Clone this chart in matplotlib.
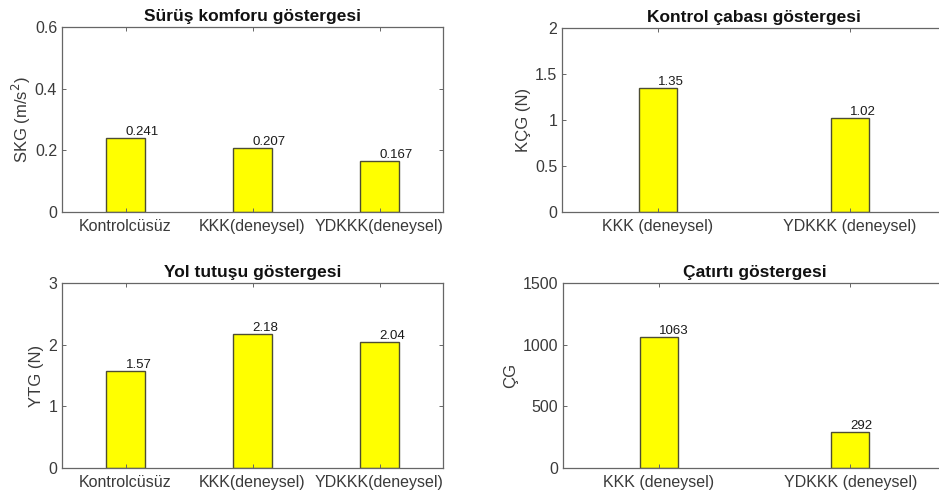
import matplotlib.pyplot as plt
from matplotlib.ticker import FuncFormatter

plt.rcParams['font.family'] = ['Liberation Sans', 'DejaVu Sans']

# data
cats3 = ["Kontrolcüsüz", "KKK(deneysel)", "YDKKK(deneysel)"]
cats2 = ["KKK (deneysel)", "YDKKK (deneysel)"]
skg = [0.241, 0.207, 0.167]
kcg = [1.35, 1.02]
ytg = [1.57, 2.18, 2.04]
cg = [1063, 292]
skg_lbl = ["0.241", "0.207", "0.167"]
kcg_lbl = ["1.35", "1.02"]
ytg_lbl = ["1.57", "2.18", "2.04"]
cg_lbl = ["1063", "292"]

W, H = 939, 500
fig = plt.figure(figsize=(W / 100, H / 100), dpi=100)
txt = '#3a3a3a'


def make_ax(l, t, r, b):
    return fig.add_axes([l / W, 1 - b / H, (r - l) / W, (b - t) / H])


def panel(ax, cats, vals, lbls, width, ylim, yticks, title, ylabel, lpad=3):
    x = list(range(1, len(cats) + 1))
    ax.bar(x, vals, width=width, color='#ffff00', edgecolor='#4d4d33', linewidth=1.0)
    for xi, v, s in zip(x, vals, lbls):
        ax.text(xi, v, s, ha='left', va='bottom', fontsize=9.5, color='#1a1a1a')
    ax.set_xlim(0.5, len(cats) + 0.5)
    ax.set_ylim(*ylim)
    ax.set_xticks(x)
    ax.set_xticklabels(cats, fontsize=11.5, color=txt)
    ax.set_yticks(yticks)
    ax.yaxis.set_major_formatter(FuncFormatter(lambda v, p: '%g' % v))
    ax.tick_params(axis='both', direction='in', top=True, right=True,
                   length=3, width=0.7, colors='#666666', labelcolor=txt,
                   labelsize=11.5)
    ax.tick_params(axis='x', pad=5)
    for s in ax.spines.values():
        s.set_color('#666666')
        s.set_linewidth(0.9)
    ax.set_title(title, fontsize=12.5, fontweight='bold', color='#111111', pad=4)
    ax.set_ylabel(ylabel, fontsize=12, color=txt, labelpad=lpad)


ax1 = make_ax(62, 27, 443, 212)
panel(ax1, cats3, skg, skg_lbl, 0.3, (0, 0.6), [0, 0.2, 0.4, 0.6],
      "Sürüş komforu göstergesi", "SKG (m/s$^2$)", lpad=1)

ax2 = make_ax(562, 28, 946, 212)
panel(ax2, cats2, kcg, kcg_lbl, 0.2, (0, 2), [0, 0.5, 1, 1.5, 2],
      "Kontrol çabası göstergesi", "KÇG (N)")

ax3 = make_ax(62, 283, 443, 468)
panel(ax3, cats3, ytg, ytg_lbl, 0.3, (0, 3), [0, 1, 2, 3],
      "Yol tutuşu göstergesi", "YTG (N)")

ax4 = make_ax(563, 283, 946, 468)
panel(ax4, cats2, cg, cg_lbl, 0.2, (0, 1500), [0, 500, 1000, 1500],
      "Çatırtı göstergesi", "ÇG")

fig.savefig("out.png", dpi=100)
